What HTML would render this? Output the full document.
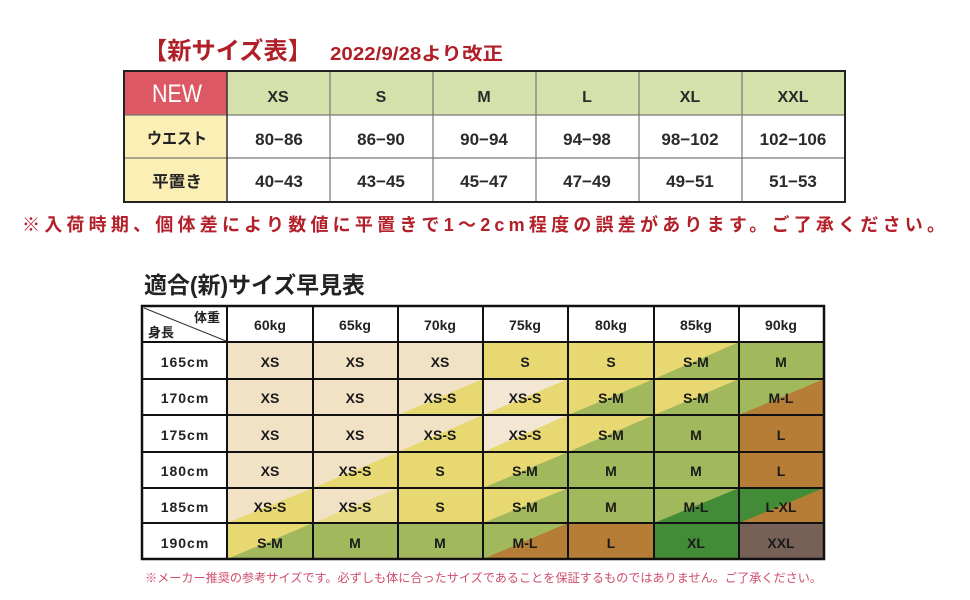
<!DOCTYPE html>
<html><head><meta charset="utf-8">
<style>
html,body{margin:0;padding:0;background:#fff;}
svg{display:block;}
text{font-family:"Liberation Sans","Noto Sans CJK JP",sans-serif;}
</style></head>
<body>
<svg width="970" height="600" viewBox="0 0 970 600" xmlns="http://www.w3.org/2000/svg">
<rect x="0" y="0" width="970" height="600" fill="#fff"/>

<!-- Title -->
<text x="143" y="59" font-size="24" font-weight="bold" fill="#b01f28" textLength="169" lengthAdjust="spacingAndGlyphs">【新サイズ表】</text>
<text x="330" y="60" font-size="18" font-weight="bold" fill="#b01f28" textLength="173" lengthAdjust="spacingAndGlyphs">2022/9/28より改正</text>

<!-- Top table fills -->
<rect x="124" y="71" width="103" height="44" fill="#dc5865"/>
<rect x="227" y="71" width="618" height="44" fill="#d5e1aa"/>
<rect x="124" y="115" width="103" height="87" fill="#fbefb6"/>
<rect x="227" y="115" width="618" height="87" fill="#ffffff"/>
<!-- inner lines -->
<g stroke="#777" stroke-width="1.2">
<line x1="124" y1="115" x2="845" y2="115"/>
<line x1="124" y1="158" x2="845" y2="158"/>
<line x1="330" y1="71" x2="330" y2="202"/>
<line x1="433" y1="71" x2="433" y2="202"/>
<line x1="536" y1="71" x2="536" y2="202"/>
<line x1="639" y1="71" x2="639" y2="202"/>
<line x1="742" y1="71" x2="742" y2="202"/>
</g>
<line x1="227" y1="71" x2="227" y2="202" stroke="#333" stroke-width="1.5"/>
<rect x="124" y="71" width="721" height="131" fill="none" stroke="#222" stroke-width="2"/>

<!-- Top table text -->
<text x="177" y="102" font-size="25" fill="#fff" text-anchor="middle" textLength="50" lengthAdjust="spacingAndGlyphs">NEW</text>
<g font-size="16" font-weight="bold" fill="#2a2a2a" text-anchor="middle">
<text x="278" y="102">XS</text>
<text x="381" y="102">S</text>
<text x="484" y="102">M</text>
<text x="587" y="102">L</text>
<text x="690" y="102">XL</text>
<text x="793" y="102">XXL</text>
</g>
<text x="177" y="144" font-size="16" font-weight="bold" fill="#222" text-anchor="middle" textLength="60" lengthAdjust="spacingAndGlyphs">ウエスト</text>
<text x="177" y="187" font-size="16" font-weight="bold" fill="#222" text-anchor="middle" textLength="50" lengthAdjust="spacingAndGlyphs">平置き</text>
<g font-size="17" font-weight="bold" fill="#2a2a2a" text-anchor="middle">
<text x="279" y="145">80−86</text>
<text x="381" y="145">86−90</text>
<text x="484" y="145">90−94</text>
<text x="587" y="145">94−98</text>
<text x="690" y="145">98−102</text>
<text x="793" y="145">102−106</text>
<text x="279" y="187">40−43</text>
<text x="381" y="187">43−45</text>
<text x="484" y="187">45−47</text>
<text x="587" y="187">47−49</text>
<text x="690" y="187">49−51</text>
<text x="793" y="187">51−53</text>
</g>

<!-- Red note -->
<text x="22" y="231" font-size="18" font-weight="bold" fill="#b3202a" textLength="923" lengthAdjust="spacing">※入荷時期、個体差により数値に平置きで1〜2cm程度の誤差があります。ご了承ください。</text>

<!-- Second title -->
<text x="144" y="293" font-size="23" font-weight="bold" fill="#222" textLength="221" lengthAdjust="spacingAndGlyphs">適合(新)サイズ早見表</text>

<!-- Bottom table -->
<g id="cells">
<rect x="142" y="306" width="682" height="36" fill="#fff"/>
<rect x="142" y="342" width="85" height="217" fill="#fff"/>

<!-- Row 165 (342-379) -->
<rect x="227" y="342" width="86" height="37" fill="#f1e2c5"/>
<rect x="313" y="342" width="85" height="37" fill="#f1e2c5"/>
<rect x="398" y="342" width="85" height="37" fill="#f1e2c5"/>
<rect x="483" y="342" width="85" height="37" fill="#e7d872"/>
<rect x="568" y="342" width="86" height="37" fill="#e7d872"/>
<rect x="654" y="342" width="85" height="37" fill="#e7d872"/><polygon points="654,379 739,342 739,379" fill="#a2b85c"/>
<rect x="739" y="342" width="85" height="37" fill="#a2b85c"/>

<!-- Row 170 (379-415) -->
<rect x="227" y="379" width="86" height="36" fill="#f1e2c5"/>
<rect x="313" y="379" width="85" height="36" fill="#f1e2c5"/>
<rect x="398" y="379" width="85" height="36" fill="#f1e2c5"/><polygon points="398,415 483,379 483,415" fill="#e7d872"/>
<rect x="483" y="379" width="85" height="36" fill="#f3e7d4"/><polygon points="483,415 568,379 568,415" fill="#e7d872"/>
<rect x="568" y="379" width="86" height="36" fill="#e7d872"/><polygon points="568,415 654,379 654,415" fill="#a2b85c"/>
<rect x="654" y="379" width="85" height="36" fill="#e7d872"/><polygon points="654,415 739,379 739,415" fill="#a2b85c"/>
<rect x="739" y="379" width="85" height="36" fill="#a2b85c"/><polygon points="739,415 824,379 824,415" fill="#b57d35"/>

<!-- Row 175 (415-452) -->
<rect x="227" y="415" width="86" height="37" fill="#f1e2c5"/>
<rect x="313" y="415" width="85" height="37" fill="#f1e2c5"/>
<rect x="398" y="415" width="85" height="37" fill="#f1e2c5"/><polygon points="398,452 483,415 483,452" fill="#e7d872"/>
<rect x="483" y="415" width="85" height="37" fill="#f3e7d4"/><polygon points="483,452 568,415 568,452" fill="#e7d872"/>
<rect x="568" y="415" width="86" height="37" fill="#e7d872"/><polygon points="568,452 654,415 654,452" fill="#a2b85c"/>
<rect x="654" y="415" width="85" height="37" fill="#a2b85c"/>
<rect x="739" y="415" width="85" height="37" fill="#b57d35"/>

<!-- Row 180 (452-488) -->
<rect x="227" y="452" width="86" height="36" fill="#f1e2c5"/>
<rect x="313" y="452" width="85" height="36" fill="#f1e2c5"/><polygon points="313,488 398,452 398,488" fill="#e7d872"/>
<rect x="398" y="452" width="85" height="36" fill="#e7d872"/>
<rect x="483" y="452" width="85" height="36" fill="#e7d872"/><polygon points="483,488 568,452 568,488" fill="#a2b85c"/>
<rect x="568" y="452" width="86" height="36" fill="#a2b85c"/>
<rect x="654" y="452" width="85" height="36" fill="#a2b85c"/>
<rect x="739" y="452" width="85" height="36" fill="#b57d35"/>

<!-- Row 185 (488-523) -->
<rect x="227" y="488" width="86" height="35" fill="#f1e2c5"/><polygon points="227,523 313,488 313,523" fill="#e7d872"/>
<rect x="313" y="488" width="85" height="35" fill="#f1e2c5"/><polygon points="313,523 398,488 398,523" fill="#e9dc86"/>
<rect x="398" y="488" width="85" height="35" fill="#e7d872"/>
<rect x="483" y="488" width="85" height="35" fill="#e7d872"/><polygon points="483,523 568,488 568,523" fill="#a2b85c"/>
<rect x="568" y="488" width="86" height="35" fill="#a2b85c"/>
<rect x="654" y="488" width="85" height="35" fill="#a2b85c"/><polygon points="654,523 739,488 739,523" fill="#438c37"/>
<rect x="739" y="488" width="85" height="35" fill="#438c37"/><polygon points="739,523 824,488 824,523" fill="#b57d35"/>

<!-- Row 190 (523-559) -->
<rect x="227" y="523" width="86" height="36" fill="#e7d872"/><polygon points="227,559 313,523 313,559" fill="#a2b85c"/>
<rect x="313" y="523" width="85" height="36" fill="#a2b85c"/>
<rect x="398" y="523" width="85" height="36" fill="#a2b85c"/>
<rect x="483" y="523" width="85" height="36" fill="#a2b85c"/><polygon points="483,559 568,523 568,559" fill="#b57d35"/>
<rect x="568" y="523" width="86" height="36" fill="#b57d35"/>
<rect x="654" y="523" width="85" height="36" fill="#438c37"/>
<rect x="739" y="523" width="85" height="36" fill="#776156"/>
</g>

<!-- grid lines -->
<g stroke="#111" stroke-width="2">
<line x1="142" y1="342" x2="824" y2="342"/>
<line x1="142" y1="379" x2="824" y2="379"/>
<line x1="142" y1="415" x2="824" y2="415"/>
<line x1="142" y1="452" x2="824" y2="452"/>
<line x1="142" y1="488" x2="824" y2="488"/>
<line x1="142" y1="523" x2="824" y2="523"/>
<line x1="227" y1="306" x2="227" y2="559"/>
<line x1="313" y1="306" x2="313" y2="559"/>
<line x1="398" y1="306" x2="398" y2="559"/>
<line x1="483" y1="306" x2="483" y2="559"/>
<line x1="568" y1="306" x2="568" y2="559"/>
<line x1="654" y1="306" x2="654" y2="559"/>
<line x1="739" y1="306" x2="739" y2="559"/>
</g>
<line x1="144" y1="308" x2="226" y2="341" stroke="#333" stroke-width="1"/>
<rect x="142" y="306" width="682" height="253" fill="none" stroke="#111" stroke-width="2.5"/>

<!-- header text -->
<text x="220" y="322" font-size="13" font-weight="bold" fill="#222" text-anchor="end">体重</text>
<text x="148" y="337" font-size="13" font-weight="bold" fill="#222">身長</text>
<g font-size="14" font-weight="bold" fill="#222" text-anchor="middle">
<text x="270" y="330">60kg</text>
<text x="355" y="330">65kg</text>
<text x="440" y="330">70kg</text>
<text x="525" y="330">75kg</text>
<text x="611" y="330">80kg</text>
<text x="696" y="330">85kg</text>
<text x="781" y="330">90kg</text>
</g>
<g font-size="14" font-weight="bold" fill="#222" text-anchor="middle" letter-spacing="1">
<text x="185" y="367">165cm</text>
<text x="185" y="403">170cm</text>
<text x="185" y="440">175cm</text>
<text x="185" y="476">180cm</text>
<text x="185" y="512">185cm</text>
<text x="185" y="548">190cm</text>
</g>

<!-- cell text -->
<g font-size="14" font-weight="bold" fill="#1a1a1a" text-anchor="middle">
<text x="270" y="367">XS</text><text x="355" y="367">XS</text><text x="440" y="367">XS</text><text x="525" y="367">S</text><text x="611" y="367">S</text><text x="696" y="367">S-M</text><text x="781" y="367">M</text>
<text x="270" y="403">XS</text><text x="355" y="403">XS</text><text x="440" y="403">XS-S</text><text x="525" y="403">XS-S</text><text x="611" y="403">S-M</text><text x="696" y="403">S-M</text><text x="781" y="403">M-L</text>
<text x="270" y="440">XS</text><text x="355" y="440">XS</text><text x="440" y="440">XS-S</text><text x="525" y="440">XS-S</text><text x="611" y="440">S-M</text><text x="696" y="440">M</text><text x="781" y="440">L</text>
<text x="270" y="476">XS</text><text x="355" y="476">XS-S</text><text x="440" y="476">S</text><text x="525" y="476">S-M</text><text x="611" y="476">M</text><text x="696" y="476">M</text><text x="781" y="476">L</text>
<text x="270" y="512">XS-S</text><text x="355" y="512">XS-S</text><text x="440" y="512">S</text><text x="525" y="512">S-M</text><text x="611" y="512">M</text><text x="696" y="512">M-L</text><text x="781" y="512">L-XL</text>
<text x="270" y="548">S-M</text><text x="355" y="548">M</text><text x="440" y="548">M</text><text x="525" y="548">M-L</text><text x="611" y="548">L</text><text x="696" y="548">XL</text><text x="781" y="548">XXL</text>
</g>

<!-- footnote -->
<text x="145" y="582" font-size="12" fill="#d04c6c" textLength="677" lengthAdjust="spacingAndGlyphs">※メーカー推奨の参考サイズです。必ずしも体に合ったサイズであることを保証するものではありません。ご了承ください。</text>
</svg>
</body></html>
